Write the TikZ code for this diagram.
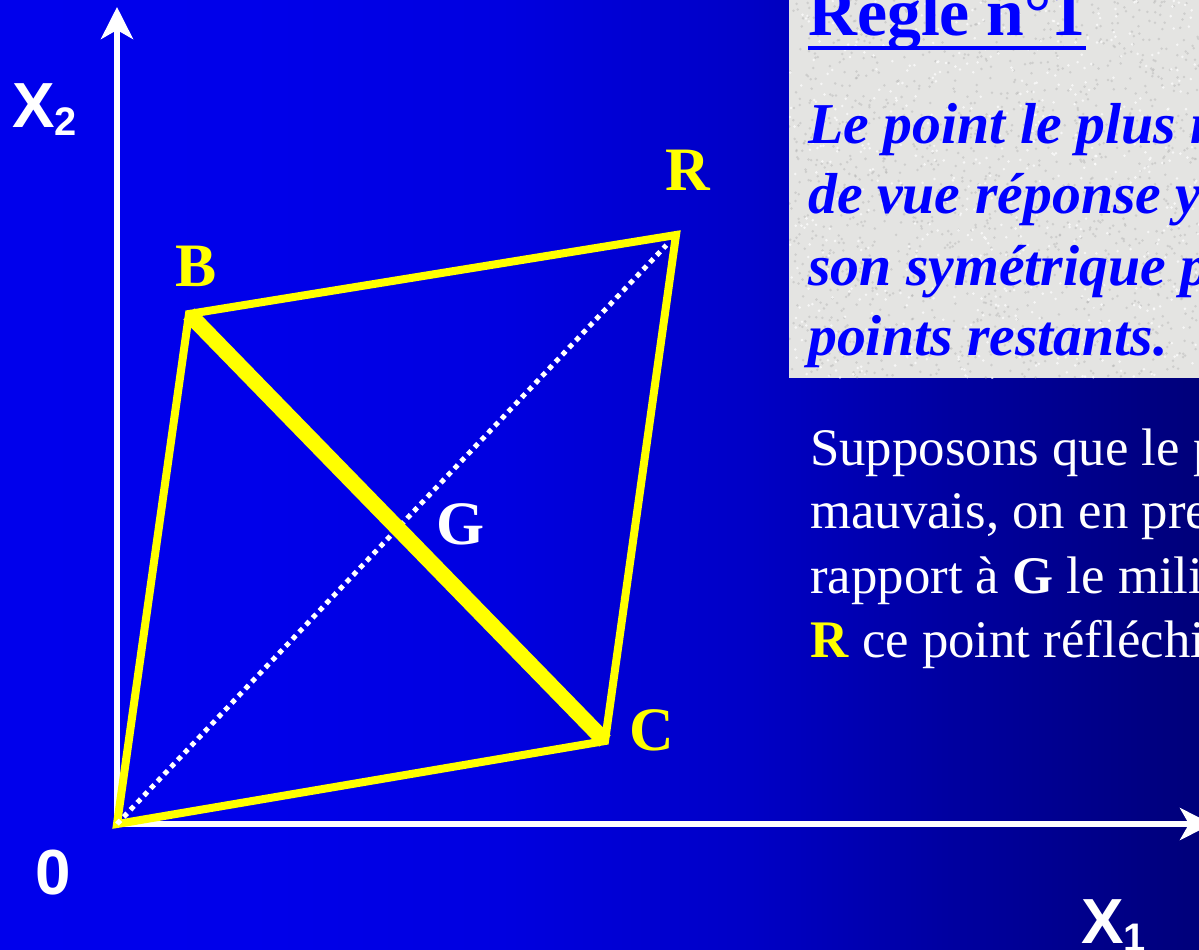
\documentclass[tikz,border=0pt]{standalone}
\usepackage{fontspec}
\setmainfont{Liberation Serif}
\newfontfamily\arialfont{Liberation Sans}
\usetikzlibrary{arrows.meta}
\definecolor{ptyellow}{RGB}{255,255,0}
\definecolor{boxgray}{RGB}{228,228,226}
\definecolor{ruleblue}{RGB}{0,0,255}
\definecolor{bgA}{RGB}{0,0,236}
\definecolor{bgB}{RGB}{0,0,234}
\definecolor{bgC}{RGB}{0,0,224}
\definecolor{bgD}{RGB}{0,0,198}
\definecolor{bgE}{RGB}{0,0,160}
\definecolor{bgF}{RGB}{0,0,122}
\pgfdeclarehorizontalshading{bgshade}{100bp}{color(0bp)=(bgA); color(25bp)=(bgA); color(35.4bp)=(bgB); color(45.9bp)=(bgC); color(56.3bp)=(bgD); color(64.6bp)=(bgE); color(75bp)=(bgF); color(100bp)=(bgF)}
\tikzset{
  axisline/.style={white, line width=5.5bp, -{Stealth[length=32bp,width=32bp,inset=9bp]}},
  yelline/.style={ptyellow, line width=8bp, line join=miter},
  thickyel/.style={ptyellow, line width=16bp},
  dotline/.style={white, line width=5bp, dash pattern=on 5bp off 4.8bp},
  ptlabel/.style={inner sep=0pt, font=\fontsize{62}{62}\selectfont\bfseries},
  axlabel/.style={inner sep=0pt, text=white, font=\arialfont\bfseries\fontsize{64}{64}\selectfont},
  ruletext/.style={inner sep=0pt, anchor=base west, text=ruleblue, font=\fontsize{58}{70}\selectfont\bfseries\itshape},
  bodytext/.style={inner sep=0pt, anchor=base west, text=white, font=\fontsize{53}{64}\selectfont},
}
\begin{document}
\begin{tikzpicture}[x=1bp,y=-1bp]
\useasboundingbox (0,0) rectangle (1199,950);
\clip (0,0) rectangle (1199,950);
\fill[shading=bgshade] (0,0) rectangle (1199,950);

% textured box
\fill[boxgray] (789,0) rectangle (1199,378);
\begin{scope}
\clip (789,0) rectangle (1199,378);
\pgfmathsetseed{4242}
\foreach \i in {1,...,1400}{
  \pgfmathsetmacro\px{789+410*rnd}
  \pgfmathsetmacro\py{378*rnd}
  \fill[gray!70, opacity=0.35] (\px,\py) circle (1.4);
}
\foreach \i in {1,...,700}{
  \pgfmathsetmacro\px{789+410*rnd}
  \pgfmathsetmacro\py{378*rnd}
  \fill[white, opacity=0.7] (\px,\py) circle (1.4);
}
\end{scope}

\node[inner sep=0pt, anchor=base west, text=ruleblue, font=\fontsize{68}{68}\selectfont\bfseries] (title) at (808,35) {Regle n°1};
\draw[ruleblue, line width=3.5bp] ([yshift=-13bp]title.base west) -- ([yshift=-13bp]title.base east);
\node[ruletext] (r1) at (808,143) {Le point le plus m};
\node[ruletext] (r2) at (808,213) {de vue réponse y};
\node[ruletext] (r3) at (808,285) {son symétrique p};
\node[ruletext] (r4) at (808,355) {points restants.};

\node[bodytext] (s1) at (810,465) {Supposons que le p};
\node[bodytext] (s2) at (810,528) {mauvais, on en pre};
\node[bodytext] (s3) at (810,593) {rapport à \textbf{G} le mili};
\node[bodytext] (s4) at (810,657) {\textcolor{ptyellow}{\textbf{R}} ce point réfléchi};

% axes
\coordinate (O) at (117,824);
\coordinate (Ytip) at (117,7);
\coordinate (Xtip) at (1212,824);
\draw[axisline] (O) -- (Ytip);
\draw[axisline] (O) -- (Xtip);

% points
\coordinate (B) at (189,314);
\coordinate (R) at (676,235);
\coordinate (C) at (605,741);
\coordinate (G) at (397,527);

\draw[yelline] (O) -- (B) -- (R) -- (C) -- cycle;
\draw[dotline, shorten >=14bp] (O) -- (R);
\draw[thickyel] (B) -- (C);

\node[ptlabel, text=ptyellow, anchor=base] (Blab) at (196,286) {B};
\node[ptlabel, text=ptyellow, anchor=base] (Rlab) at (688,190) {R};
\node[ptlabel, text=white, anchor=base] (Glab) at (461,544) {G};
\node[ptlabel, text=ptyellow, anchor=base] (Clab) at (652,750) {C};

\node[axlabel, anchor=base west] (x2) at (12,127) {X\raisebox{-8bp}{\fontsize{40}{40}\selectfont 2}};
\node[axlabel, anchor=base west] (x1) at (1081,943) {X\raisebox{-8bp}{\fontsize{40}{40}\selectfont 1}};
\node[axlabel, anchor=base] (zero) at (53.5,894) {0};
\end{tikzpicture}
\end{document}
